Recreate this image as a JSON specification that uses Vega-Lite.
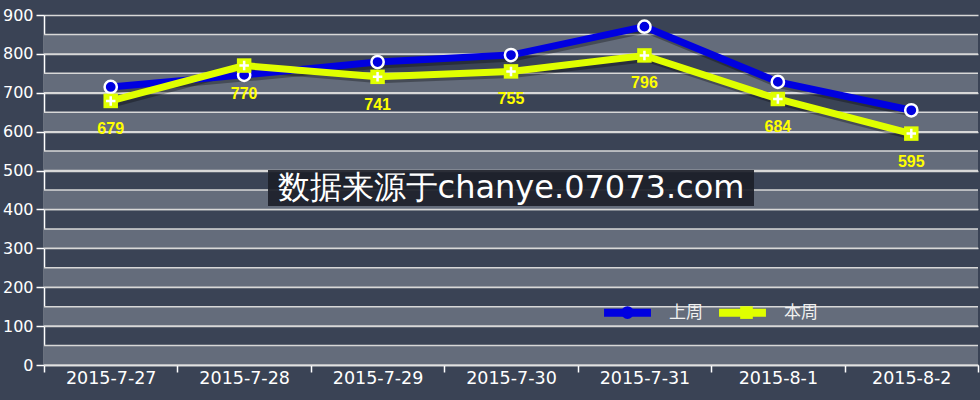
{
  "$schema": "https://vega.github.io/schema/vega-lite/v6.json",
  "width": 934,
  "height": 350,
  "autosize": {"type": "none"},
  "padding": {"left": 44, "top": 15, "right": 2, "bottom": 35},
  "background": "#3a4355",
  "config": {"view": {"stroke": null}, "font": "DejaVu Sans"},
  "datasets": {
    "sales": [
      {"date": "2015-7-27", "series": "上周", "value": 715},
      {"date": "2015-7-28", "series": "上周", "value": 746},
      {"date": "2015-7-29", "series": "上周", "value": 779},
      {"date": "2015-7-30", "series": "上周", "value": 797},
      {"date": "2015-7-31", "series": "上周", "value": 870},
      {"date": "2015-8-1", "series": "上周", "value": 728},
      {"date": "2015-8-2", "series": "上周", "value": 655},
      {"date": "2015-7-27", "series": "本周", "value": 679},
      {"date": "2015-7-28", "series": "本周", "value": 770},
      {"date": "2015-7-29", "series": "本周", "value": 741},
      {"date": "2015-7-30", "series": "本周", "value": 755},
      {"date": "2015-7-31", "series": "本周", "value": 796},
      {"date": "2015-8-1", "series": "本周", "value": 684},
      {"date": "2015-8-2", "series": "本周", "value": 595}
    ],
    "bands": [
      {"lo": 0, "hi": 50}, {"lo": 100, "hi": 150}, {"lo": 200, "hi": 250},
      {"lo": 300, "hi": 350}, {"lo": 400, "hi": 450}, {"lo": 500, "hi": 550},
      {"lo": 600, "hi": 650}, {"lo": 700, "hi": 750}, {"lo": 800, "hi": 850}
    ],
    "note": [{"label": "数据来源于chanye.07073.com"}]
  },
  "encoding": {
    "y": {
      "type": "quantitative",
      "scale": {"domain": [0, 900], "nice": false, "zero": true},
      "axis": {
        "values": [0, 100, 200, 300, 400, 500, 600, 700, 800, 900],
        "labelOverlap": false, "labelFlush": false,
        "grid": true, "gridColor": "#d8d8d8", "gridWidth": 1.5,
        "domainColor": "#ffffff", "domainWidth": 1.5,
        "tickColor": "#ffffff", "tickWidth": 1.5, "tickSize": 8,
        "labelColor": "#ffffff", "labelFontSize": 16, "labelPadding": 3,
        "labelFont": "DejaVu Sans", "title": null
      }
    }
  },
  "layer": [
    {
      "data": {"name": "bands"},
      "mark": {"type": "rect", "fill": "#646c7b"},
      "encoding": {
        "y": {"field": "lo", "type": "quantitative"},
        "y2": {"field": "hi"}
      }
    },
    {
      "data": {"name": "bands"},
      "mark": {"type": "rule", "color": "#d8d8d8", "strokeWidth": 1.5},
      "encoding": {"y": {"field": "lo", "type": "quantitative"}}
    },
    {
      "data": {"name": "bands"},
      "mark": {"type": "rule", "color": "#d8d8d8", "strokeWidth": 1.5},
      "encoding": {"y": {"field": "hi", "type": "quantitative"}}
    },
    {
      "data": {"name": "note"},
      "mark": {"type": "point", "shape": "M-1,-0.074L1,-0.074L1,0.074L-1,0.074Z", "filled": true, "fill": "#1c2029", "opacity": 0.92, "strokeWidth": 0, "size": 236196},
      "encoding": {
        "x": {"datum": "2015-7-30", "type": "nominal", "bandPosition": 0.5},
        "y": {"datum": 455, "type": "quantitative"}
      }
    },
    {
      "data": {"name": "note"},
      "mark": {"type": "text", "font": "DejaVu Sans", "fontSize": 32, "color": "#ffffff", "baseline": "middle", "align": "center"},
      "encoding": {
        "x": {"datum": "2015-7-30", "type": "nominal", "bandPosition": 0.5},
        "y": {"datum": 455, "type": "quantitative"},
        "text": {"field": "label"}
      }
    },
    {
      "data": {"name": "sales"},
      "mark": {"type": "line", "strokeWidth": 7, "color": "#000000", "opacity": 0.3, "xOffset": 2, "yOffset": 3},
      "encoding": {
        "x": {"field": "date", "type": "nominal", "bandPosition": 0.5},
        "y": {"field": "value", "type": "quantitative"},
        "detail": {"field": "series"}
      }
    },
    {
      "data": {"name": "sales"},
      "mark": {"type": "line", "strokeWidth": 7},
      "encoding": {
        "x": {
          "field": "date", "type": "nominal", "bandPosition": 0.5,
          "sort": ["2015-7-27", "2015-7-28", "2015-7-29", "2015-7-30", "2015-7-31", "2015-8-1", "2015-8-2"],
          "scale": {"type": "band", "domain": ["2015-7-27", "2015-7-28", "2015-7-29", "2015-7-30", "2015-7-31", "2015-8-1", "2015-8-2"], "paddingInner": 0, "paddingOuter": 0},
          "axis": {
            "title": null, "labelAngle": 0, "tickBand": "extent", "bandPosition": 0.5, "grid": false,
            "labelAlign": "center", "labelFlush": false, "labelOverlap": false,
            "domainColor": "#ffffff", "domainWidth": 1.5,
            "tickColor": "#ffffff", "tickWidth": 1.5, "tickSize": 7,
            "labelColor": "#ffffff", "labelFontSize": 17.5, "labelPadding": 6,
            "labelFont": "DejaVu Sans"
          }
        },
        "y": {"field": "value", "type": "quantitative"},
        "color": {
          "field": "series", "type": "nominal",
          "scale": {"domain": ["上周", "本周"], "range": ["#0000e0", "#e0ff00"]},
          "legend": {
            "orient": "none", "legendX": 556, "legendY": 270, "direction": "horizontal",
            "title": null, "symbolType": "stroke", "symbolStrokeWidth": 8, "symbolSize": 2200,
            "labelFontSize": 17, "labelColor": "#f0f0f0", "labelFont": "Noto Sans CJK SC",
            "columnPadding": 0, "labelOffset": 14, "padding": 0, "zindex": 1
          }
        }
      }
    },
    {
      "data": {"name": "sales"},
      "mark": {"type": "point", "filled": true, "strokeWidth": 2.5, "opacity": 1},
      "encoding": {
        "x": {"field": "date", "type": "nominal", "bandPosition": 0.5},
        "y": {"field": "value", "type": "quantitative"},
        "shape": {
          "field": "series", "type": "nominal",
          "scale": {"range": ["circle", "square"]}
        },
        "fill": {
          "field": "series", "type": "nominal",
          "scale": {"range": ["#0000e0", "#e0ff00"]},
          "legend": {
            "orient": "none", "legendX": 575, "legendY": 289, "direction": "horizontal",
            "title": null, "symbolSize": 160, "symbolStrokeWidth": 2.5,
            "labelFontSize": 17, "labelExpr": "''", "labelFont": "Noto Sans CJK SC",
            "columnPadding": 85, "labelOffset": 14, "padding": 0, "zindex": 2,
            "encode": {
              "symbols": {
                "update": {
                  "stroke": {"signal": "datum.value == '上周' ? '#ffffff' : 'transparent'"},
                  "opacity": {"value": 1}
                }
              }
            }
          }
        },
        "stroke": {"condition": {"test": "datum.series == '上周'", "value": "#ffffff"}, "value": "transparent"},
        "size": {"condition": {"test": "datum.series == '上周'", "value": 150}, "value": 210}
      }
    },
    {
      "data": {"name": "sales"},
      "transform": [{"filter": "datum.series == '本周'"}],
      "mark": {"type": "point", "shape": "M-1,0L1,0M0,-1L0,1", "filled": false, "stroke": "#ffffff", "strokeWidth": 2.5, "size": 90, "opacity": 1},
      "encoding": {
        "x": {"field": "date", "type": "nominal", "bandPosition": 0.5},
        "y": {"field": "value", "type": "quantitative"}
      }
    },
    {
      "data": {"name": "sales"},
      "transform": [{"filter": "datum.series == '本周'"}],
      "mark": {"type": "text", "dy": 28, "font": "Liberation Sans", "fontWeight": "bold", "fontSize": 16, "color": "#ffff00"},
      "encoding": {
        "x": {"field": "date", "type": "nominal", "bandPosition": 0.5},
        "y": {"field": "value", "type": "quantitative"},
        "text": {"field": "value", "type": "quantitative"}
      }
    }
  ]
}
